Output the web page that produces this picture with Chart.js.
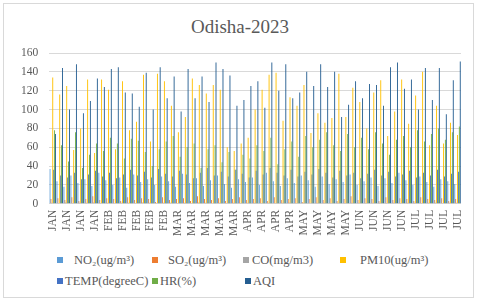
<!DOCTYPE html>
<html>
<head>
<meta charset="utf-8">
<script src="https://cdn.jsdelivr.net/npm/chart.js@4"></script>
<style>
  html, body { margin: 0; padding: 0; background: #fff; }
  #wrap { position: relative; width: 480px; height: 304px; overflow: hidden; font-family: 'Liberation Serif', 'Times New Roman', serif; }
  #frame { position: absolute; left: 3px; top: 3px; width: 471px; height: 295px; border: 1px solid #d9d9d9; box-sizing: border-box; }
  #title { position: absolute; left: 0; top: 16px; width: 480px; text-align: center; font-size: 19px; color: #595959; }
  #plot { position: absolute; left: 0; top: 0; width: 480px; height: 246px; }
  .lg { position: absolute; font-size: 12.5px; color: #595959; white-space: nowrap; line-height: 14px; }
  .lg i { position: absolute; top: 4px; width: 6px; height: 6px; }
</style>
</head>
<body>
<div id="wrap">
  <div id="frame"></div>
  <div id="title">Odisha-2023</div>
  <div id="plot"><canvas id="odishaChart"></canvas></div>
  <div id="legend"></div>
</div>
<script>
// samples per month (Jan - Jul 2023)
const months = ['JAN', 'FEB', 'MAR', 'APR', 'MAY', 'JUN', 'JUL'];
const samplesPerMonth = [8, 9, 10, 8, 9, 8, 7];

const no2 = [37, 24, 18, 30, 22, 26, 19, 33, 25, 20, 28, 17, 31, 23, 26, 20, 29, 24, 18, 32,
             22, 27, 19, 25, 30, 21, 17, 26, 23, 28, 20, 33, 24, 19, 27, 22, 30, 25, 18, 29,
             21, 26, 23, 31, 20, 24, 28, 19, 27, 22, 33, 25, 20, 29, 23, 18, 26, 24, 21];
const so2 = [5, 6, 4, 7, 3, 5, 8, 4, 6, 5, 3, 7, 4, 6, 5, 2, 7, 4, 5, 6,
             3, 8, 5, 4, 6, 3, 5, 7, 4, 5, 6, 3, 7, 4, 5, 6, 2, 5, 7, 4,
             6, 3, 5, 8, 4, 6, 5, 3, 7, 4, 6, 5, 3, 7, 5, 4, 6, 3, 5];
const co = [1.1, 0.9, 1.3, 0.8, 1.2, 1.0, 1.4, 0.9, 1.1, 0.7, 1.2, 1.0, 0.8, 1.3, 1.1, 0.9, 1.0, 1.2, 0.8, 1.1,
            0.9, 1.3, 1.0, 0.7, 1.2, 0.9, 1.1, 0.8, 1.0, 1.2, 0.9, 1.1, 0.8, 1.0, 1.3, 0.9, 1.1, 0.7, 1.0, 1.2,
            0.9, 1.1, 0.8, 1.0, 1.2, 0.9, 1.0, 1.1, 0.8, 1.2, 0.9, 1.0, 1.1, 0.8, 1.0, 1.2, 0.9, 1.1, 1.0];
const pm10 = [134, 116, 125, 57, 80, 132, 54, 132, 121, 58, 130, 78, 87, 137, 66, 138, 130, 104, 76, 92,
              133, 126, 117, 126, 121, 60, 56, 64, 70, 100, 121, 137, 139, 88, 113, 104, 126, 75, 96, 86,
              91, 138, 92, 123, 108, 80, 118, 131, 72, 98, 132, 85, 115, 140, 62, 104, 64, 86, 73];
const temp = [36, 30, 28, 33, 26, 31, 35, 29, 33, 27, 31, 36, 30, 34, 28, 37, 32, 29, 35, 31,
              27, 33, 38, 30, 34, 29, 36, 32, 28, 35, 31, 38, 33, 30, 36, 29, 34, 31, 37, 33,
              28, 35, 30, 33, 27, 32, 36, 30, 34, 29, 31, 35, 28, 33, 30, 36, 29, 32, 34];
const hr = [78, 62, 45, 76, 38, 52, 64, 56, 70, 64, 48, 69, 67, 55, 40, 58, 66, 72, 50, 60,
            64, 38, 58, 62, 44, 55, 36, 52, 48, 62, 56, 70, 42, 58, 66, 50, 72, 60, 68, 76,
            62, 56, 74, 60, 70, 58, 76, 64, 52, 68, 72, 60, 78, 66, 74, 80, 68, 76, 82];
const aqi = [74, 144, 100, 148, 96, 109, 133, 124, 143, 145, 118, 117, 103, 139, 100, 145, 112, 135, 98, 143,
             112, 135, 108, 150, 143, 136, 104, 110, 125, 130, 102, 150, 120, 148, 112, 118, 140, 125, 148, 124,
             140, 92, 105, 130, 112, 127, 126, 104, 145, 150, 122, 132, 100, 144, 110, 144, 95, 131, 151];

const yTicks = { min: 0, max: 160, step: 20 };

const seriesNames = ['NO\u2082(ug/m\u00B3)', 'SO\u2082(ug/m\u00B3)', 'CO(mg/m3)', 'PM10(ug/m\u00B3)',
                     'TEMP(degreeC)', 'HR(%)', 'AQI'];
const seriesColors = ['#5B9BD5', '#ED7D31', '#A5A5A5', '#FFC000', '#4472C4', '#70AD47', '#255E91'];

document.addEventListener('DOMContentLoaded', function () {
    const labels = [];
    months.forEach((m, i) => {
        for (let k = 0; k < samplesPerMonth[i]; k++) labels.push(m);
    });

    const values = [no2, so2, co, pm10, temp, hr, aqi];
    const datasets = values.map((v, i) => ({
        label: seriesNames[i],
        data: v,
        backgroundColor: seriesColors[i],
        borderWidth: 0,
        categoryPercentage: 0.92,
        barPercentage: 1.0
    }));

    const txt = '#595959';
    Chart.defaults.font.family = 'Liberation Serif';

    new Chart(document.getElementById('odishaChart'), {
        type: 'bar',
        data: { labels: labels, datasets: datasets },
        options: {
            responsive: true,
            maintainAspectRatio: false,
            animation: false,
            layout: { padding: { left: 10, right: 19, top: 53, bottom: 4 } },
            plugins: {
                legend: { display: false },
                title: { display: false },
                tooltip: { enabled: false }
            },
            scales: {
                x: {
                    grid: { display: false, drawTicks: false },
                    border: { display: false },
                    ticks: {
                        autoSkip: false,
                        minRotation: 90,
                        maxRotation: 90,
                        padding: 6,
                        color: txt,
                        font: { size: 11.5 },
                        callback: function (value, index) {
                            return index % 2 === 0 ? this.getLabelForValue(value) : '';
                        }
                    }
                },
                y: {
                    min: yTicks.min,
                    max: yTicks.max,
                    grid: { color: '#d9d9d9', drawTicks: false },
                    border: { display: false },
                    ticks: {
                        stepSize: yTicks.step,
                        padding: 11,
                        color: txt,
                        font: { size: 11.5 }
                    }
                }
            }
        }
    });

    // legend laid out like the spreadsheet original: two rows, fixed columns
    const legendPos = [
        [57, 74, 253], [152, 168, 253], [243, 252, 253], [340, 360, 253],
        [57, 65, 274], [152, 160, 274], [245, 253, 274]
    ];
    const legend = document.getElementById('legend');
    seriesNames.forEach((name, i) => {
        const p = legendPos[i];
        const sw = document.createElement('i');
        sw.style.background = seriesColors[i];
        sw.style.left = (p[0] - p[1]) + 'px';
        const item = document.createElement('div');
        item.className = 'lg';
        item.style.left = p[1] + 'px';
        item.style.top = p[2] + 'px';
        item.textContent = name;
        item.appendChild(sw);
        legend.appendChild(item);
    });
});
</script>
</body>
</html>
